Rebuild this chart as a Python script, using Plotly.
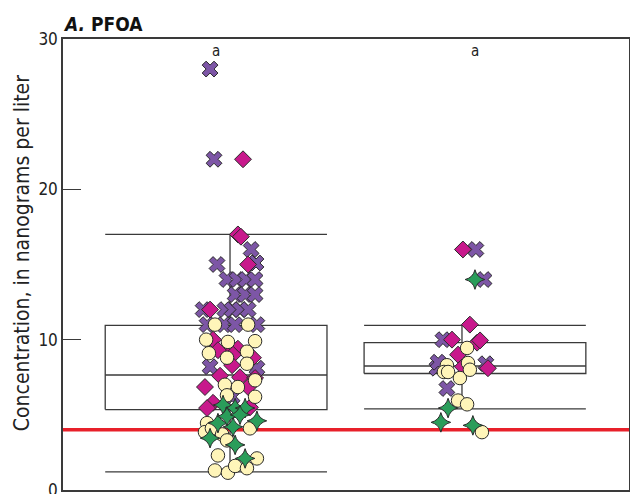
import plotly.graph_objects as go

# PFOA concentrations (ng/L) for two groups of wells, with box-plot summaries
groups = [1, 2]
group_letters = ["a", "a"]

# Box-plot statistics: lower whisker, Q1, median, Q3, upper whisker
box_low = [1.2, 5.4]
box_q1 = [5.35, 7.75]
box_median = [7.65, 8.25]
box_q3 = [10.95, 9.8]
box_high = [17.0, 10.95]

# Health-based reference level (ng/L)
reference_level = 4.0

# Individual samples, by marker class; jitter is the horizontal spread about the group
x_group = [1] * 24 + [2] * 7
x_value = [28, 22, 16, 15, 15.1, 14, 14, 14, 14, 13, 13, 13, 12, 12, 12, 12, 12,
           11, 11, 11, 11, 8.2, 8.1, 6.2,
           16, 14, 10, 8.1, 8.5, 6.75, 8.4]
x_jitter = [-0.086, -0.069, 0.091, -0.056, 0.112, -0.013, 0.030, 0.069, 0.108,
            0.022, 0.065, 0.108, -0.116, -0.022, 0.009, 0.043, 0.078,
            -0.099, -0.026, 0.022, 0.116, -0.086, 0.116, 0.009,
            0.060, 0.095, -0.082, -0.108, -0.103, -0.065, 0.103]

d_group = [1] * 20 + [2] * 8
d_value = [22, 17, 16.85, 15, 12, 10, 9.5, 9.3, 9.4, 9.0, 8.8, 8.3, 7.6, 7.5,
           7.45, 6.85, 6.85, 5.8, 5.5, 5.45,
           16, 11, 10, 9.8, 9.95, 9.0, 8.1, 8.2]
d_jitter = [0.056, 0.034, 0.047, 0.078, -0.086, -0.073, -0.009, -0.052, 0.034,
            0.013, 0.099, 0.009, -0.043, 0.043, 0.108, -0.108, 0.078, -0.073,
            0.086, -0.099,
            0.004, 0.034, -0.043, 0.065, 0.078, -0.017, 0.112, 0.004]

c_group = [1] * 26 + [2] * 10
c_value = [11, 11, 10, 9.85, 9.9, 9.1, 8.8, 9.2, 8.4, 7.0, 6.85, 7.3, 6.2, 6.3,
           4.45, 3.85, 4.1, 4.1, 3.7, 3.3, 2.3, 1.3, 1.15, 1.6, 1.45, 2.1,
           9.45, 8.45, 8.3, 7.85, 7.85, 7.45, 8.0, 5.95, 5.7, 3.85]
c_jitter = [-0.065, 0.078, -0.103, -0.009, 0.108, -0.091, -0.013, 0.073, 0.073,
            -0.022, 0.034, 0.108, 0.108, -0.013, -0.099, -0.108, -0.078, 0.086,
            -0.034, -0.013, -0.052, -0.065, -0.009, 0.022, 0.073, 0.116,
            0.022, 0.026, -0.065, -0.078, -0.060, -0.009, 0.034, -0.017, 0.022,
            0.086]

s_group = [1] * 11 + [2] * 4
s_value = [5.65, 5.45, 5.45, 4.6, 4.45, 4.2, 3.45, 3.0, 2.1, 4.9, 5.0,
           14, 5.45, 4.5, 4.3]
s_jitter = [-0.030, 0.022, 0.065, 0.116, -0.052, 0.013, -0.086, 0.022, 0.065,
            -0.013, 0.043,
            0.056, -0.060, -0.091, 0.047]

y_tick_values = [0, 10, 20, 30]

# Styling
FONT = "Liberation Sans Narrow, Arial Narrow, DejaVu Sans Condensed, sans-serif"
LINE = "#3a3a3a"
BOX_SHIFT = [-0.06, 0.056]   # box centre relative to the group's whisker line
BOX_HALF = 0.478
X_RANGE = [0.28, 2.72]

fig = go.Figure()

# Box outlines, whisker caps and whisker stems
bx, by = [], []
for i, g in enumerate(groups):
    c = g + BOX_SHIFT[i]
    l, r = c - BOX_HALF, c + BOX_HALF
    bx += [l, r, r, l, l, None, l, r, None]
    by += [box_q1[i], box_q1[i], box_q3[i], box_q3[i], box_q1[i], None,
           box_median[i], box_median[i], None]
    bx += [l, r, None, l, r, None, g, g, None, g, g, None]
    by += [box_high[i], box_high[i], None, box_low[i], box_low[i], None,
           box_q3[i], box_high[i], None, box_q1[i], box_low[i], None]
fig.add_trace(go.Scatter(x=bx, y=by, mode="lines",
                         line=dict(color=LINE, width=1.3),
                         hoverinfo="skip", showlegend=False))

# Reference level line across the whole plot
fig.add_trace(go.Scatter(x=X_RANGE, y=[reference_level, reference_level],
                         mode="lines", line=dict(color="#e8202a", width=3.5),
                         hoverinfo="skip", showlegend=False))


def add_points(grp, val, jit, symbol, color, size):
    fig.add_trace(go.Scatter(
        x=[g + j for g, j in zip(grp, jit)], y=val, mode="markers",
        marker=dict(symbol=symbol, color=color, size=size,
                    line=dict(color="#2b2b2b", width=1)),
        showlegend=False))


add_points(x_group, x_value, x_jitter, "x", "#7d56a6", 14)
add_points(d_group, d_value, d_jitter, "diamond", "#c8198c", 13)
add_points(c_group, c_value, c_jitter, "circle", "#fff5b9", 13.5)
add_points(s_group, s_value, s_jitter, "star-diamond", "#2a9d5a", 14)

# Group letters above each box
for i, g in enumerate(groups):
    fig.add_annotation(x=g + BOX_SHIFT[i], y=29.2, text=group_letters[i],
                       showarrow=False, font=dict(family=FONT, size=15, color="#222"))

# Panel title
fig.add_annotation(xref="paper", yref="paper", x=0, y=1, xanchor="left",
                   yanchor="bottom", yshift=2, xshift=-2,
                   text="<b><i>A.</i> PFOA</b>", showarrow=False,
                   font=dict(family=FONT, size=19, color="#111"))

# Y-axis title
fig.add_annotation(xref="paper", yref="paper", x=0, y=0.525, xshift=-41,
                   xanchor="center", yanchor="middle", textangle=-90,
                   text="Concentration, in nanograms per liter", showarrow=False,
                   font=dict(family=FONT, size=21, color="#222"))

fig.update_layout(
    width=630, height=494,
    margin=dict(l=63, r=1, t=39, b=4, autoexpand=False),
    paper_bgcolor="white", plot_bgcolor="white",
    font=dict(family=FONT, color="#222"),
    xaxis=dict(range=X_RANGE, showticklabels=False, ticks="",
               showgrid=False, zeroline=False, showline=True, mirror=True,
               linecolor=LINE, linewidth=1.5, automargin=False),
    yaxis=dict(range=[0, 30], tickvals=y_tick_values, ticks="inside",
               ticklen=18, tickcolor=LINE, tickwidth=1.3,
               ticklabeloverflow="allow", automargin=False,
               tickfont=dict(family=FONT, size=17, color="#222"),
               showgrid=False, zeroline=False, showline=True, mirror=True,
               linecolor=LINE, linewidth=1.5),
)

fig.write_html("out.html")
